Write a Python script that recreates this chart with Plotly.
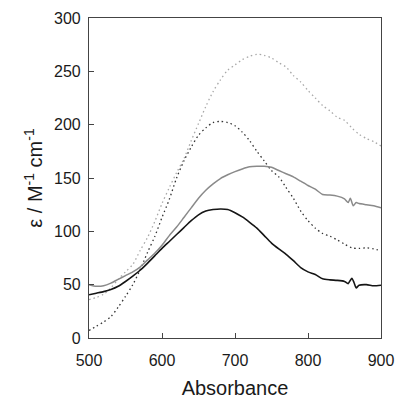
import plotly.graph_objects as go

# wavelength grids
x_bs = [500, 510, 520, 530, 540, 550, 560, 570, 580, 590, 600, 610, 620, 630, 640, 650, 660, 670, 680, 690,
        700, 710, 720, 730, 740, 750, 760, 770, 780, 790, 800, 810, 820, 830, 840, 850, 855, 860, 863, 866,
        870, 880, 890, 900]
y_bs = [40.5, 42, 43.5, 45.5, 48.5, 53, 58, 63.5, 70, 77, 84, 90.5, 97, 103.5, 110, 115.5, 119, 120.4, 121, 120.5,
        117.5, 113.5, 108.5, 103, 96, 89, 83.5, 78.5, 72.5, 66, 62, 59.5, 55.5, 54.5, 54, 53, 51, 56, 52, 47,
        49.5, 50, 49, 49.5]

x_gs = [500, 510, 520, 530, 540, 550, 560, 570, 580, 590, 600, 610, 620, 630, 640, 650, 660, 670, 680, 690,
        700, 710, 720, 730, 740, 750, 760, 770, 780, 790, 800, 810, 820, 830, 840, 850, 855, 858, 862, 866,
        870, 880, 890, 900]
y_gs = [50, 48.5, 49, 51.5, 55, 58.5, 62, 66.5, 73, 79.5, 87, 96, 104, 113, 122, 131, 138.5, 144.5, 149.5, 153,
        156, 158.5, 160.5, 161, 161, 160, 157, 154, 151, 147, 143, 139.5, 134.5, 134, 133, 130.5, 127, 131, 124, 127,
        126, 125, 124, 122]

x_dot = [500, 510, 520, 530, 540, 550, 560, 570, 580, 590, 600, 610, 620, 630, 640, 650, 660, 670, 680, 690,
         700, 710, 720, 730, 740, 750, 760, 770, 780, 790, 800, 810, 820, 830, 840, 850, 860, 870, 880, 890, 900]
y_bd = [7, 11, 15, 20, 29, 39, 50, 64, 80, 95, 113, 130, 150, 166, 179, 190, 197, 202, 203, 202,
        199, 193, 185, 175, 166, 157, 151, 141, 131, 119, 110, 103, 98, 95.5, 92, 88, 84.5, 84, 84.5, 83.5, 82]
y_ld = [36, 38, 41, 47, 55, 62, 69, 82, 94, 109, 126, 141, 155, 168, 185, 201, 217, 231, 242, 251,
        256, 261, 264, 266, 265, 262.5, 258, 254, 246, 240, 232, 225, 218, 213, 207, 204, 197, 191, 187, 184, 180]

x_ticks = [500, 600, 700, 800, 900]
y_ticks = [0, 50, 100, 150, 200, 250, 300]

FONT = "Liberation Sans"

fig = go.Figure()
fig.add_trace(go.Scatter(x=x_dot, y=y_ld, mode="lines", line=dict(color="#a8a8a8", width=1.3, dash="1.5px,3px", shape="spline", smoothing=0.8)))
fig.add_trace(go.Scatter(x=x_dot, y=y_bd, mode="lines", line=dict(color="#333333", width=1.3, dash="1.5px,3px", shape="spline", smoothing=0.8)))
fig.add_trace(go.Scatter(x=x_gs, y=y_gs, mode="lines", line=dict(color="#8a8a8a", width=1.5, shape="spline", smoothing=0.6)))
fig.add_trace(go.Scatter(x=x_bs, y=y_bs, mode="lines", line=dict(color="#151515", width=1.6, shape="spline", smoothing=0.6)))

axis_common = dict(
    showgrid=False, zeroline=False, showline=True, linecolor="#444444", linewidth=1.2,
    ticks="inside", ticklen=5, tickcolor="#444444", tickwidth=1, mirror=True,
    tickfont=dict(family=FONT, size=16, color="#1a1a1a"),
)
fig.update_xaxes(range=[500, 900], tickvals=x_ticks, ticklabelstandoff=8,
                 title=dict(text="Absorbance", font=dict(family=FONT, size=20, color="#1a1a1a"), standoff=12),
                 **axis_common)
fig.update_yaxes(range=[0, 300], tickvals=y_ticks, ticklabelstandoff=4,
                 title=dict(text="ε / M<sup>-1</sup> cm<sup>-1</sup>", font=dict(family=FONT, size=20, color="#1a1a1a"), standoff=5),
                 **axis_common)
fig.update_layout(
    width=398, height=399, showlegend=False,
    margin=dict(l=89, r=17, t=18, b=61, autoexpand=False),
    plot_bgcolor="white", paper_bgcolor="white",
    font=dict(family=FONT),
)
fig.write_html("out.html", config={"displayModeBar": False},
               post_script="document.body.style.margin='0';document.body.style.padding='0';")
